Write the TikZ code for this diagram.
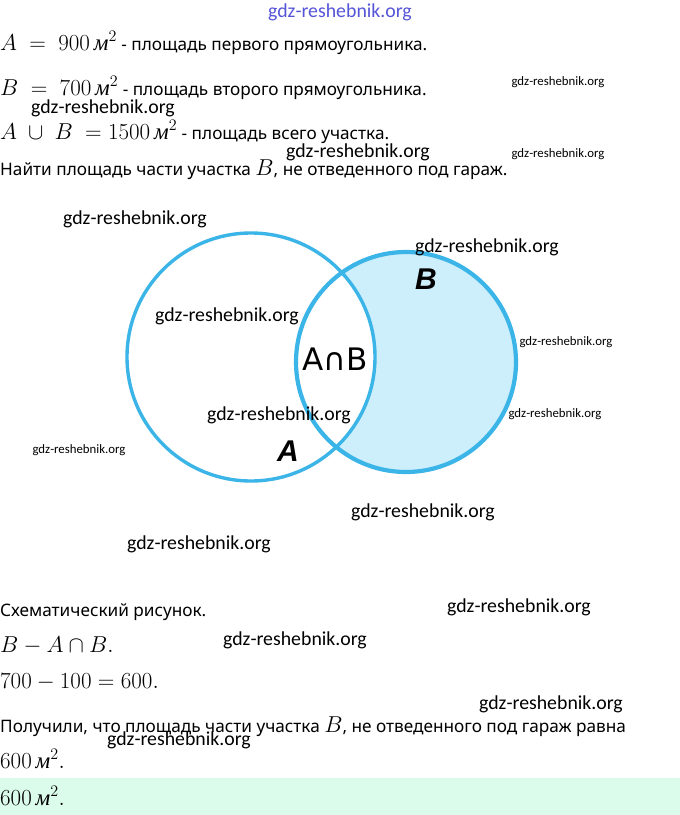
\RequirePackage{fix-cm}
\documentclass[tikz,border=0pt]{standalone}
\usepackage{fontspec}
\newfontfamily\rutext{Noto Sans}
\newfontfamily\cyrserif{Liberation Serif}
\newfontfamily\wmfont{Carlito}
\newfontfamily\capfont{DejaVu Sans}
\newfontfamily\lblfont{Liberation Sans}
\newcommand{\mtr}{\mbox{\fontsize{23}{26}\selectfont\cyrserif\itshape м}}
\newcommand{\mm}[1]{{\fontsize{23}{26}\selectfont$#1$}}
\definecolor{vline}{HTML}{3BB4E8}
\definecolor{vfill}{HTML}{CDEEFB}
\definecolor{ansbg}{HTML}{DBFBEB}
\definecolor{wmblue}{HTML}{5555D8}
\tikzset{
  txt/.style={anchor=base west, inner sep=0pt, font=\fontsize{17.2}{20}\selectfont\rutext},
  wmbig/.style={inner sep=0pt, font=\fontsize{19.8}{22}\selectfont\wmfont},
  wmsmall/.style={inner sep=0pt, font=\fontsize{12.8}{15}\selectfont\wmfont},
  setlbl/.style={inner sep=0pt, font=\fontsize{30}{32}\selectfont\lblfont\bfseries\itshape},
  vcirc/.style={draw=vline, line width=3.8pt}
}
\begin{document}
\begin{tikzpicture}[x=1pt,y=-1pt]
\useasboundingbox (0,0) rectangle (680,815);
\fill[white] (0,0) rectangle (680,815);
\fill[ansbg] (0,778) rectangle (680,815);

% Venn diagram
\fill[vfill] (406,362) circle (110);
\begin{scope}
  \clip (251,357) circle (124);
  \fill[white] (406,362) circle (110);
\end{scope}
\draw[vcirc, line width=3.4pt] (251,357) circle (124);
\draw[vcirc, line width=4.2pt] (406,362) circle (110);
\node[inner sep=0pt, font=\fontsize{31}{33}\selectfont\capfont] (ab) at (335,359) {A∩B};
\node[setlbl] (lb) at (426,279) {B};
\node[setlbl] (la) at (288,451) {A};

% text lines
\node[txt] (l1) at (0,50) {\mm{A\ =\ 900\,\mtr^{2}} - площадь первого прямоугольника.};
\node[txt] (l2) at (0,95) {\mm{B\ =\ 700\,\mtr^{2}} - площадь второго прямоугольника.};
\node[txt] (l3) at (0,139) {\mm{A\ \cup\ B\ = 1500\,\mtr^{2}} - площадь всего участка.};
\node[txt] (l4) at (0,175) {Найти площадь части участка \mm{B}, не отведенного под гараж.};
\node[txt] (l5) at (0,616) {Схематический рисунок.};
\node[txt] (l6) at (0,652) {\mm{B-A\cap B.}};
\node[txt] (l7) at (0,688) {\mm{700-100=600.}};
\node[txt] (l8) at (0,732) {Получили, что площадь части участка \mm{B}, не отведенного под гараж равна};
\node[txt] (l9) at (0,768) {\mm{600\,\mtr^{2}.}};
\node[txt] (l10) at (0,805) {\mm{600\,\mtr^{2}.}};

% watermarks
\node[wmbig, text=wmblue] (w0) at (340,12) {gdz-reshebnik.org};
\node[wmsmall] (w1) at (558,82) {gdz-reshebnik.org};
\node[wmbig] (w2) at (103,108) {gdz-reshebnik.org};
\node[wmbig] (w3) at (358,152) {gdz-reshebnik.org};
\node[wmsmall] (w4) at (558,154) {gdz-reshebnik.org};
\node[wmbig] (w5) at (135,219) {gdz-reshebnik.org};
\node[wmbig] (w6) at (487,247) {gdz-reshebnik.org};
\node[wmbig] (w7) at (227,316) {gdz-reshebnik.org};
\node[wmsmall] (w8) at (566,342) {gdz-reshebnik.org};
\node[wmbig] (w9) at (279,415) {gdz-reshebnik.org};
\node[wmsmall] (w10) at (555,414) {gdz-reshebnik.org};
\node[wmsmall] (w11) at (79,450) {gdz-reshebnik.org};
\node[wmbig] (w12) at (423,512) {gdz-reshebnik.org};
\node[wmbig] (w13) at (199,544) {gdz-reshebnik.org};
\node[wmbig] (w14) at (519,607) {gdz-reshebnik.org};
\node[wmbig] (w15) at (295,640) {gdz-reshebnik.org};
\node[wmbig] (w16) at (551,704) {gdz-reshebnik.org};
\node[wmbig] (w17) at (179,740) {gdz-reshebnik.org};
\end{tikzpicture}
\end{document}
